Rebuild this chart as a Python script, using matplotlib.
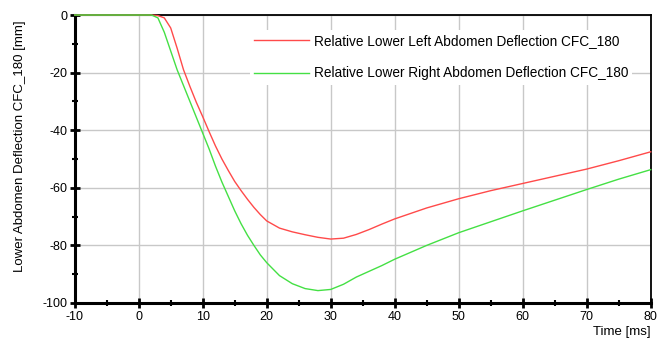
import matplotlib
matplotlib.use("Agg")
import matplotlib.pyplot as plt
from matplotlib.ticker import MultipleLocator

plt.rcParams['font.family'] = ['Liberation Sans', 'DejaVu Sans']
plt.rcParams['axes.unicode_minus'] = False

# time axis [ms]
t = [-10, 0, 2, 3, 4, 5, 6, 7, 8, 9, 10, 11, 12, 13, 14, 15, 16, 17, 18, 19,
     20, 22, 24, 26, 28, 30, 32, 34, 36, 38, 40, 45, 50, 55, 60, 65, 70, 75, 80]

# lower left abdomen deflection [mm]
left_defl = [0, 0, 0, -0.2, -1.0, -4.5, -11.5, -19.0, -24.8, -30.3, -35.3, -40.5,
             -45.5, -50.0, -54.0, -57.8, -61.0, -64.0, -66.8, -69.3,
             -71.5, -74.0, -75.3, -76.3, -77.2, -77.8, -77.5, -76.2, -74.5, -72.6,
             -70.8, -67.0, -63.8, -61.0, -58.5, -56.0, -53.5, -50.6, -47.5]

# lower right abdomen deflection [mm]
right_defl = [0, 0, 0, -1.0, -6.0, -12.5, -19.0, -24.5, -30.0, -35.5, -41.0, -46.5,
              -52.5, -58.0, -63.0, -68.0, -72.5, -76.5, -80.0, -83.3,
              -86.0, -90.5, -93.3, -95.0, -95.7, -95.3, -93.5, -91.0, -89.0, -87.0,
              -84.8, -80.0, -75.6, -71.8, -68.0, -64.3, -60.6, -57.0, -53.7]

labels = ['Relative Lower Left Abdomen Deflection CFC_180',
          'Relative Lower Right Abdomen Deflection CFC_180']

fig = plt.figure(figsize=(6.64, 3.38), dpi=100)
ax = fig.add_axes([0.1125, 0.1036, 0.8675, 0.852])

ax.plot(t, left_defl, color='#ff4a4a', lw=1.0, label=labels[0],
        zorder=4, clip_on=False)
ax.plot(t, right_defl, color='#44e044', lw=1.0, label=labels[1],
        zorder=4, clip_on=False)

ax.set_xlim(-10, 80)
ax.set_ylim(-100, 0)
ax.xaxis.set_major_locator(MultipleLocator(10))
ax.xaxis.set_minor_locator(MultipleLocator(5))
ax.yaxis.set_major_locator(MultipleLocator(20))
ax.yaxis.set_minor_locator(MultipleLocator(10))
ax.grid(True, which='major', color='#c8c8c8', lw=1.0)
ax.set_axisbelow(True)

ax.tick_params(which='major', direction='inout', length=7, width=2,
               labelsize=9, pad=2)
ax.tick_params(which='minor', direction='inout', length=5, width=1.5)

for side in ['left', 'bottom']:
    ax.spines[side].set_linewidth(2.2)
for side in ['top', 'right']:
    ax.spines[side].set_linewidth(1.3)

# legend sits on a white patch that hides the grid behind it
leg = ax.legend(loc='upper left', bbox_to_anchor=(250 / 664, 1 - 30 / 338),
                bbox_transform=fig.transFigure, frameon=True, fancybox=False,
                edgecolor='none', facecolor='white', framealpha=1,
                fontsize=9.8, handlelength=4.0, handletextpad=0.4,
                labelspacing=1.35, borderpad=0.3, borderaxespad=0)
leg.set_zorder(5)

fig.text(20 / 664, 1 - 146 / 338, 'Lower Abdomen Deflection CFC_180 [mm]',
         rotation=90, ha='center', va='center', fontsize=9.5)
fig.text(651 / 664, 1 - 332 / 338, 'Time [ms]', ha='right', va='center',
         fontsize=9.5)

fig.savefig('out.png', dpi=100)
